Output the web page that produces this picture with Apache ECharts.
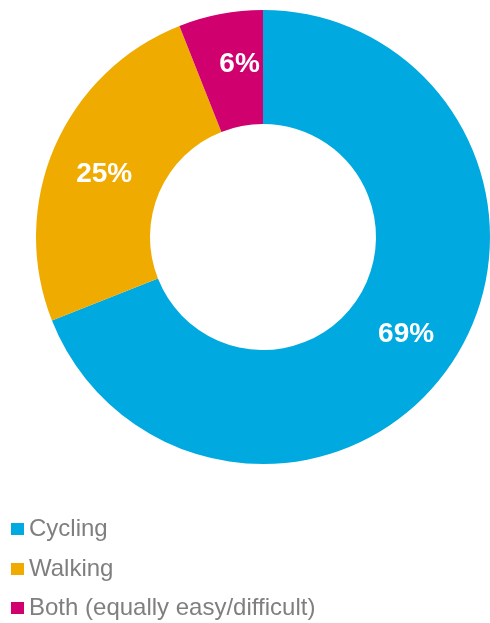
<!DOCTYPE html>
<html>
<head>
<meta charset="utf-8">
<script src="https://cdn.jsdelivr.net/npm/echarts@6/dist/echarts.min.js"></script>
<style>
  html, body { margin: 0; padding: 0; background: #fff; }
  #main { width: 490px; height: 623px; }
</style>
</head>
<body>
<div id="main"></div>
<script>
// donut data, clockwise from 12 o'clock
const categories = ['Cycling', 'Walking', 'Both (equally easy/difficult)'];
const shares = [69, 25, 6];
const colors = ['#00A9E0', '#F0AB00', '#D0006F'];

const chart = echarts.init(document.getElementById('main'), null, { renderer: 'canvas' });

// labels in the original are nudged a little off the slice centre
const labelNudge = [null, [0, 6], [9, -3]];

const pieData = categories.map(function (name, i) {
  const item = { name: name, value: shares[i], itemStyle: { color: colors[i] } };
  if (labelNudge[i]) item.label = { offset: labelNudge[i] };
  return item;
});

// one legend per row so they stack like the original
const legendTops = [512, 552, 591];
const legends = categories.map(function (name, i) {
  return {
    orient: 'vertical',
    left: 6,
    top: legendTops[i],
    itemWidth: 13,
    itemHeight: 12,
    icon: 'rect',
    selectedMode: false,
    textStyle: {
      color: '#7F7F7F',
      fontFamily: 'Liberation Sans, Arial, sans-serif',
      fontSize: 24
    },
    data: [name]
  };
});

const option = {
  animation: false,
  backgroundColor: '#ffffff',
  legend: legends,
  series: [{
    type: 'pie',
    center: [263, 237],
    radius: [113, 227],
    startAngle: 90,
    clockwise: true,
    avoidLabelOverlap: false,
    emphasis: { disabled: true },
    label: {
      show: true,
      position: 'inside',
      formatter: function (p) { return p.value + '%'; },
      color: '#ffffff',
      fontFamily: 'Liberation Sans, Arial, sans-serif',
      fontWeight: 'bold',
      fontSize: 28
    },
    labelLine: { show: false },
    itemStyle: { borderWidth: 0 },
    data: pieData
  }]
};

chart.setOption(option);
</script>
</body>
</html>
